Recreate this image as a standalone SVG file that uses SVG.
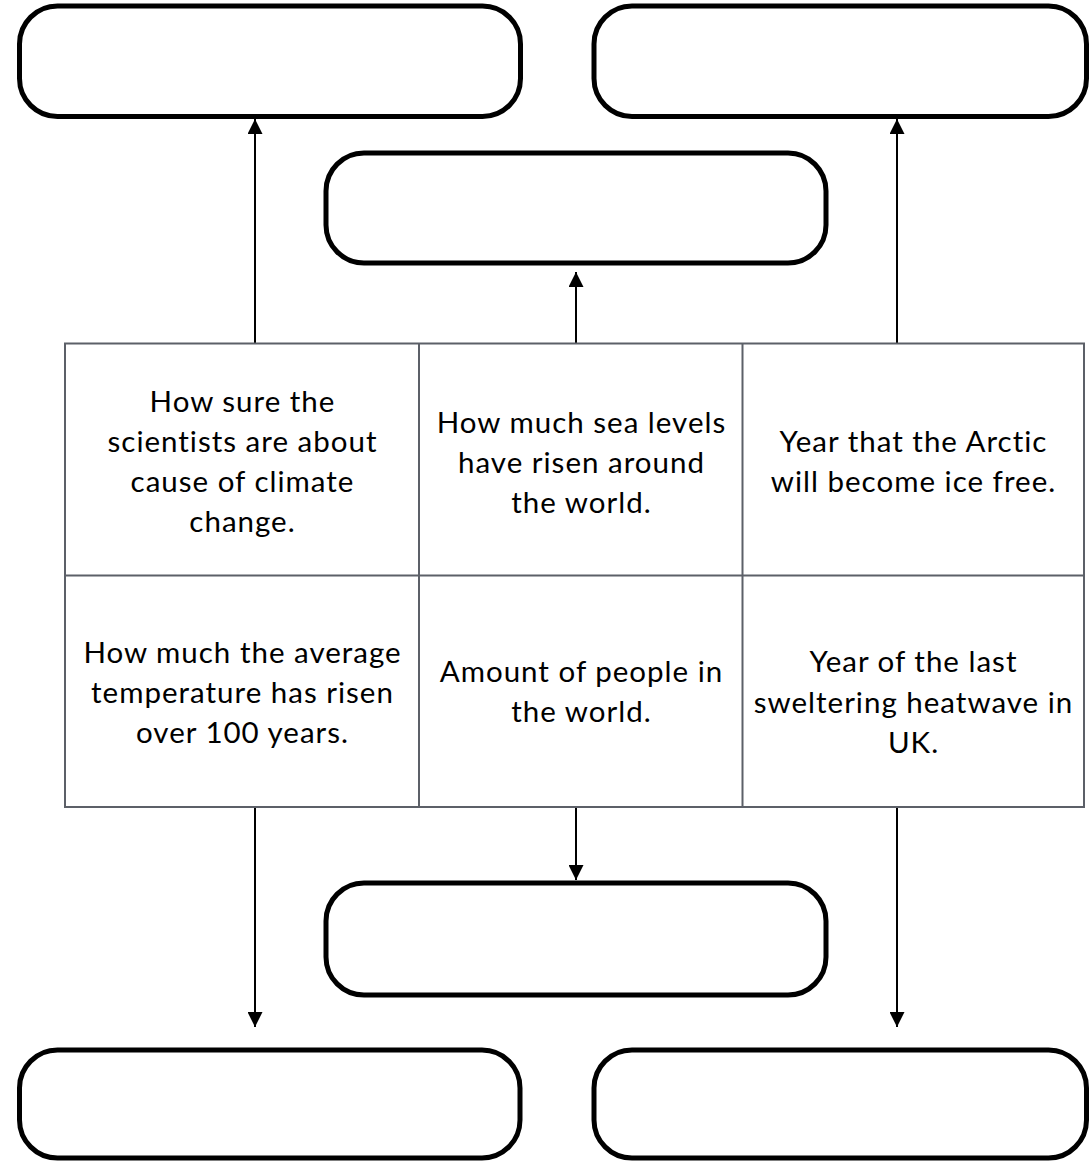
<svg xmlns="http://www.w3.org/2000/svg" width="1089" height="1161" viewBox="0 0 1089 1161">
<style>
.box{fill:#fff;stroke:#000;stroke-width:5}
.cell{fill:#fff;stroke:#5c6068;stroke-width:2}
.conn{stroke:#000;stroke-width:2;fill:none}
.t{font-family:Lato,"Open Sans","Liberation Sans",sans-serif;font-size:29.5px;letter-spacing:1px;fill:#000;text-anchor:middle}
</style>
<defs>
<marker id="ah" viewBox="0 0 16 15" refX="15" refY="7.5" markerWidth="16" markerHeight="15" markerUnits="userSpaceOnUse" orient="auto">
<path d="M0,0 L15,7.5 L0,15 Z" fill="#000"/>
</marker>
</defs>
<rect width="1089" height="1161" fill="#fff"/>
<g id="connectors">
<line class="conn" x1="255" y1="343" x2="255" y2="119" marker-end="url(#ah)"/>
<line class="conn" x1="576" y1="343" x2="576" y2="272" marker-end="url(#ah)"/>
<line class="conn" x1="897" y1="343" x2="897" y2="119" marker-end="url(#ah)"/>
<line class="conn" x1="255" y1="807" x2="255" y2="1027" marker-end="url(#ah)"/>
<line class="conn" x1="576" y1="807" x2="576" y2="880" marker-end="url(#ah)"/>
<line class="conn" x1="897" y1="807" x2="897" y2="1027" marker-end="url(#ah)"/>
</g>
<g id="box-top-left"><rect class="box" x="19.5" y="6" width="501" height="110.5" rx="38" ry="38"/></g>
<g id="box-top-right"><rect class="box" x="594" y="6" width="492.5" height="110.5" rx="38" ry="38"/></g>
<g id="box-mid-top"><rect class="box" x="326" y="153" width="500" height="110" rx="38" ry="38"/></g>
<g id="box-mid-bottom"><rect class="box" x="326" y="883" width="500" height="112" rx="38" ry="38"/></g>
<g id="box-bottom-left"><rect class="box" x="19.5" y="1050" width="500.5" height="108" rx="38" ry="38"/></g>
<g id="box-bottom-right"><rect class="box" x="594" y="1050" width="492.5" height="108" rx="38" ry="38"/></g>
<g id="table">
<rect class="cell" x="65" y="343.5" width="1019" height="463.5"/>
<line class="cell" x1="419" y1="343.5" x2="419" y2="807"/>
<line class="cell" x1="742.5" y1="343.5" x2="742.5" y2="807"/>
<line class="cell" x1="65" y1="575.5" x2="1084" y2="575.5"/>
</g>
<g id="cell-r1c1">
<text class="t" x="242.5" y="412">How sure the</text>
<text class="t" x="242.5" y="452">scientists are about</text>
<text class="t" x="242.5" y="492">cause of climate</text>
<text class="t" x="242.5" y="532">change.</text>
</g>
<g id="cell-r1c2">
<text class="t" x="581.5" y="433">How much sea levels</text>
<text class="t" x="581.5" y="473">have risen around</text>
<text class="t" x="581.5" y="513">the world.</text>
</g>
<g id="cell-r1c3">
<text class="t" x="913.5" y="452">Year that the Arctic</text>
<text class="t" x="913.5" y="492">will become ice free.</text>
</g>
<g id="cell-r2c1">
<text class="t" x="242.5" y="663">How much the average</text>
<text class="t" x="242.5" y="703">temperature has risen</text>
<text class="t" x="242.5" y="743">over 100 years.</text>
</g>
<g id="cell-r2c2">
<text class="t" x="581.5" y="682">Amount of people in</text>
<text class="t" x="581.5" y="722">the world.</text>
</g>
<g id="cell-r2c3">
<text class="t" x="913.5" y="672">Year of the last</text>
<text class="t" x="913.5" y="713">sweltering heatwave in</text>
<text class="t" x="913.5" y="753">UK.</text>
</g>
</svg>
